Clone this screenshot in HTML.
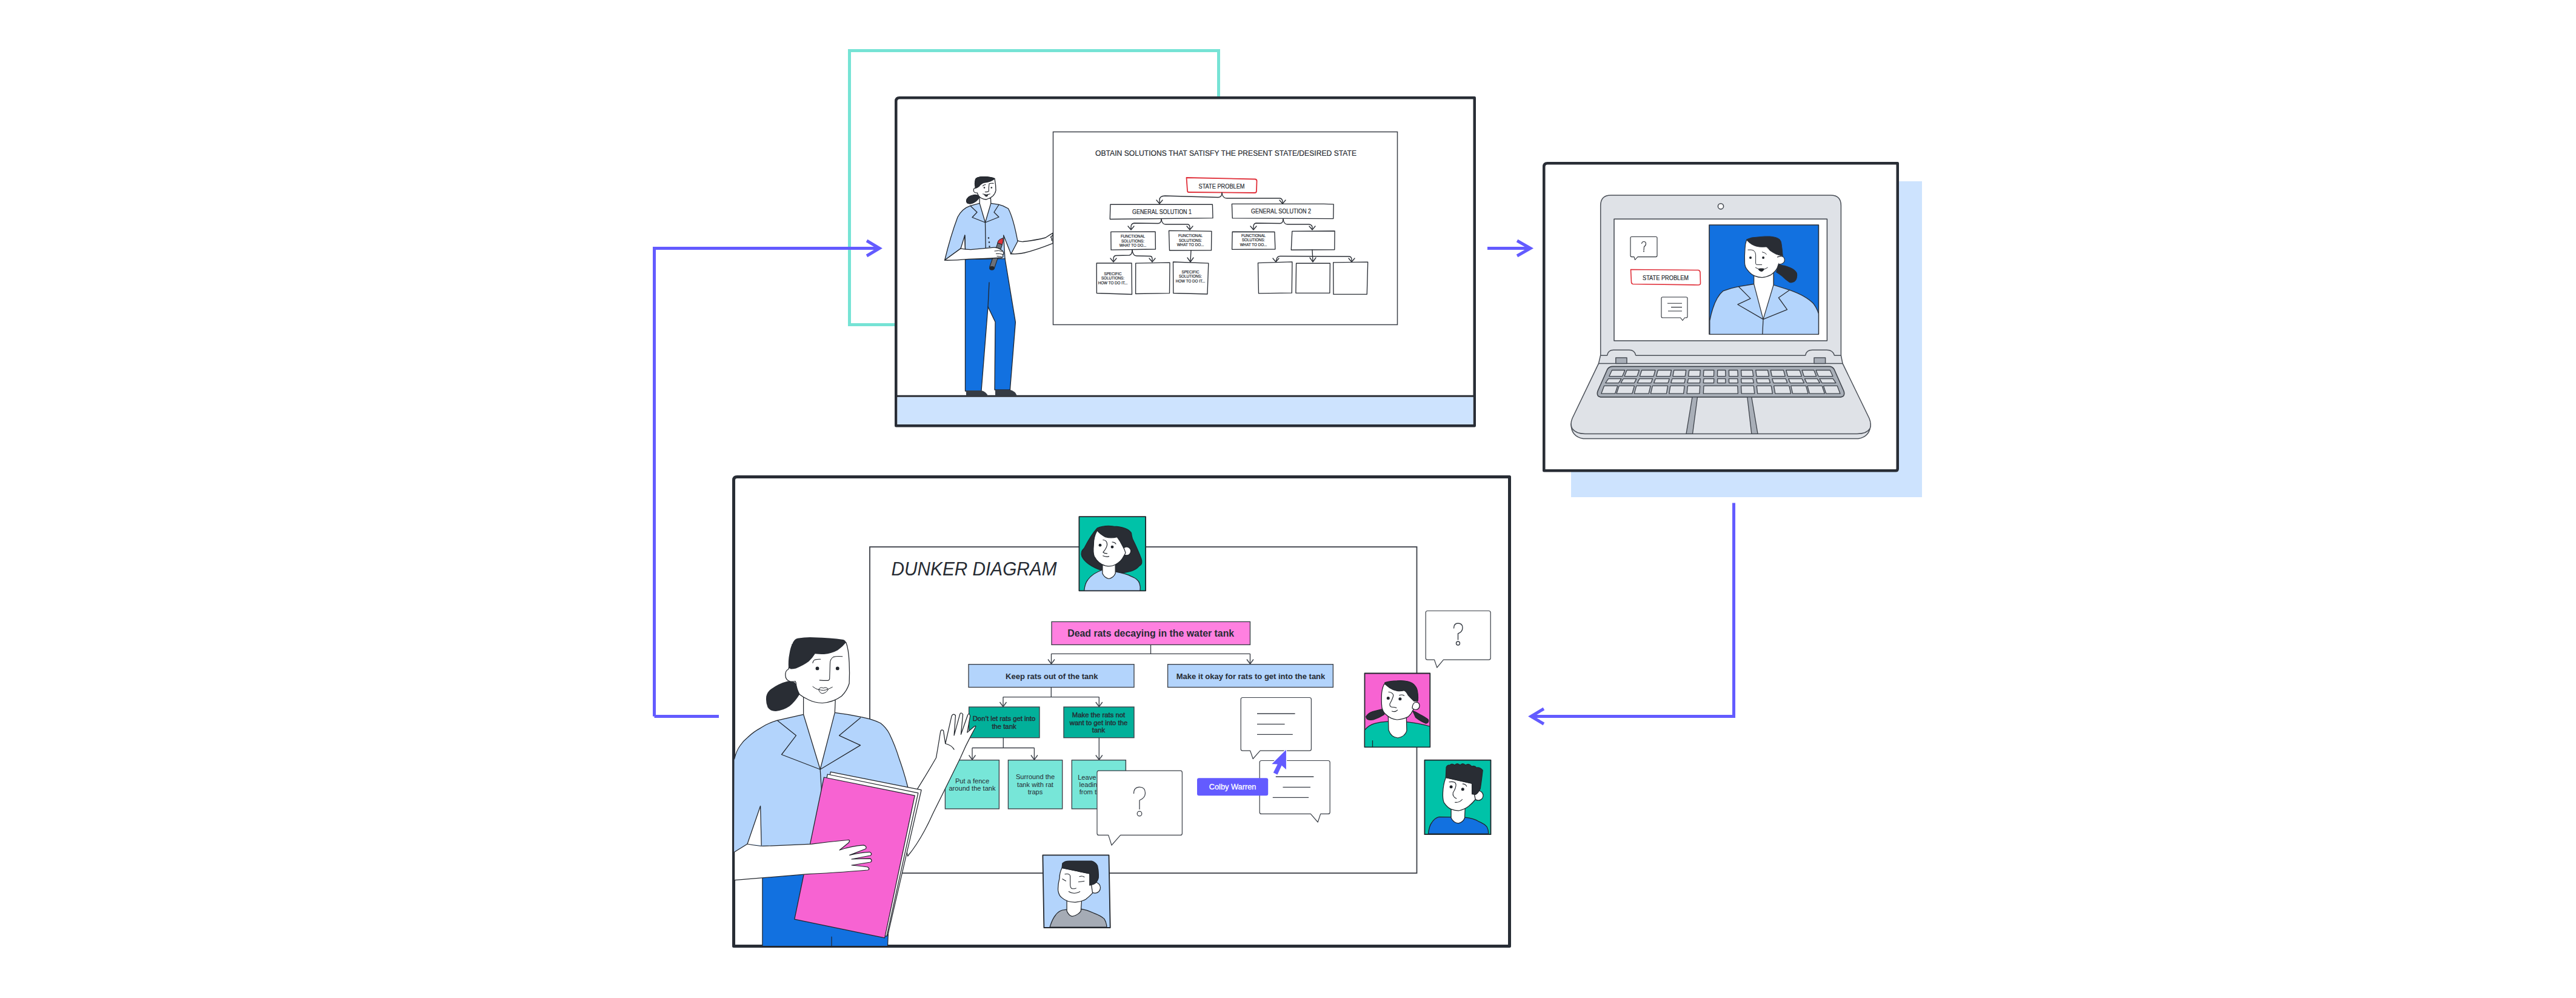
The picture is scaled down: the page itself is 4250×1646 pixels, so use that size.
<!DOCTYPE html>
<html><head><meta charset="utf-8">
<style>
html,body{margin:0;padding:0;background:#fff;width:4250px;height:1646px;overflow:hidden}
svg{display:block;font-family:"Liberation Sans",sans-serif}
</style></head><body>
<svg width="4250" height="1646" viewBox="0 0 4250 1646">
<rect x="0" y="0" width="4250" height="1646" fill="#fff"/>
<!-- teal rect -->
<rect x="1401.5" y="83.5" width="609" height="452" fill="none" stroke="#76e3d5" stroke-width="5"/>
<!-- connectors -->
<g fill="none" stroke="#635bff" stroke-width="5" stroke-linecap="butt">
<path d="M1079.5 1181.5 V409.5 H1450"/>
<path d="M1430 397 L1451 409.5 L1430 422" stroke-linejoin="miter"/>
<path d="M1186 1181.5 H1079.5"/>
<path d="M2454 409.5 H2525"/>
<path d="M2503 397 L2525 409.5 L2503 422"/>
<path d="M2860.5 829.5 V1181.5 H2526"/>
<path d="M2547 1169 L2526 1181.5 L2547 1194"/>
</g>
<!-- TOP PANEL -->
<g id="top">
<path d="M1478.25 702.25 V167 Q1478.25 161.25 1484 161.25 H2432.75 V702.25 Z" fill="#fff" stroke="#282d35" stroke-width="4.5" stroke-linejoin="round"/>
<rect x="1480.5" y="655" width="950" height="45" fill="#cde3fe"/>
<line x1="1478" y1="653.3" x2="2433" y2="653.3" stroke="#282d35" stroke-width="3"/>
<rect x="1737.5" y="217.5" width="568" height="318" fill="#fff" stroke="#3c4048" stroke-width="1.5"/>

<g id="whiteboard" fill="none" stroke="#2b2f36" stroke-width="1.35" stroke-linejoin="round" stroke-linecap="round">
<path d="M1957.5 293 L2071 295.5 Q2074 296 2073.5 300 L2073 315 Q2073 318 2070 318 L1961 317 Q1959 317 1959 314 Z" stroke="#e0303a" stroke-width="1.8"/>
<path d="M1831.9 337.1 L2000.4 337.2 L2001.0 359.7 L1831.3 361.5 Z"/>
<path d="M2032.4 336.4 L2184 336.4 L2200.2 336.9 L2199.8 360.6 L2033.3 359.9 Z"/>
<path d="M1832.8 382.4 L1906.1 382.1 L1906.4 411.0 L1833.1 412.2 Z"/>
<path d="M1928.5 380.4 L1998.9 381.4 L1998.5 412.9 L1929.5 413.0 Z"/>
<path d="M2033.2 382.2 L2102.9 382.5 L2103.9 411.0 L2032.6 411.3 Z"/>
<path d="M2131.8 381.3 L2202.1 381.0 L2201.8 411.7 L2130.3 412.2 Z"/>
<path d="M1809.2 434.0 L1867.0 434.0 L1867.5 485.5 L1809.4 483.5 Z"/>
<path d="M1873.7 434.1 L1930.0 433.2 L1929.5 483.6 L1873.6 484.5 Z"/>
<path d="M1935.5 432.0 L1993.8 434.2 L1992.0 485.0 L1935.8 483.5 Z"/>
<path d="M2075.5 433.6 L2131.9 431.9 L2131.3 483.2 L2076.5 483.9 Z"/>
<path d="M2138.6 434.2 L2194.4 434.2 L2193.9 483.3 L2137.9 483.2 Z"/>
<path d="M2199.7 432.8 L2256.7 432.2 L2255.3 485.2 L2200.0 485.4 Z"/>
<!-- braces -->
<path d="M2016 318 Q2016 325 2010 325.5 L1922 323 Q1913 323 1913 330 L1913 335"/>
<path d="M2016 318 Q2017 327 2024 327 L2112 327 Q2116 328 2116 333 L2116 335"/>
<path d="M1908 330 L1913 336 L1918 330 M2111 330 L2116 336 L2121 330"/>
<path d="M1916 361 Q1916 368 1911 368.5 L1871 368 Q1866 369 1866 374 L1866 378"/>
<path d="M1916 361 Q1917 370 1923 370 L1960 370 Q1963 371 1963 375 L1963 378"/>
<path d="M1861 373 L1866 379 L1871 373 M1958 373 L1963 379 L1968 373"/>
<path d="M2117 361 Q2117 368 2112 368.5 L2072 368 Q2068 369 2068 374 L2068 378"/>
<path d="M2117 361 Q2118 370 2124 370 L2160 370 Q2165 371 2165 375 L2165 378"/>
<path d="M2063 373 L2068 379 L2073 373 M2160 373 L2165 379 L2170 373"/>
<path d="M1868 412 Q1868 420 1863 421 L1841 421.5 Q1837 422 1837 427 L1837 431"/>
<path d="M1868 412 Q1869 422 1875 422 L1898 422.5 Q1901 423 1901 427 L1901 431"/>
<path d="M1832 426 L1837 432 L1842 426 M1896 426 L1901 432 L1906 426"/>
<path d="M1965 413 L1964 431 M1959 425 L1964 432 L1969 425"/>
<path d="M2165 412 L2166 431 M2161 425 L2166 432 L2171 425"/>
<path d="M2105 432 L2106 428 Q2107 422.5 2112 422.5 L2226 423 Q2230 423.5 2230 428 L2230 431"/>
<path d="M2100 426 L2105 432 L2110 426 M2225 426 L2230 432 L2235 426"/>
</g>
<g id="wbtext" fill="#262a30" font-family="Liberation Sans" stroke="#262a30" stroke-width="0.2">
<text x="1807" y="257" font-size="13.5" textLength="431" lengthAdjust="spacingAndGlyphs">OBTAIN SOLUTIONS THAT SATISFY THE PRESENT STATE/DESIRED STATE</text>
<text x="1977.5" y="310.6" font-size="11.5" textLength="76" lengthAdjust="spacingAndGlyphs">STATE PROBLEM</text>
<text x="1868" y="353" font-size="11" textLength="98" lengthAdjust="spacingAndGlyphs">GENERAL SOLUTION 1</text>
<text x="2064" y="352" font-size="11" textLength="99" lengthAdjust="spacingAndGlyphs">GENERAL SOLUTION 2</text>
<g font-size="6.3" text-anchor="middle">
<text x="1869" y="392">FUNCTIONAL</text><text x="1869" y="399.5">SOLUTIONS:</text><text x="1869" y="407">WHAT TO DO...</text>
<text x="1964" y="391">FUNCTIONAL</text><text x="1964" y="398.5">SOLUTIONS:</text><text x="1964" y="406">WHAT TO DO...</text>
<text x="2068" y="391">FUNCTIONAL</text><text x="2068" y="398">SOLUTIONS:</text><text x="2068" y="405.5">WHAT TO DO...</text>
<text x="1836" y="453.5">SPECIFIC</text><text x="1836" y="461">SOLUTIONS:</text><text x="1836" y="468.5">HOW TO DO IT...</text>
<text x="1964" y="450.5">SPECIFIC</text><text x="1964" y="458">SOLUTIONS:</text><text x="1964" y="465.5">HOW TO DO IT...</text>
</g>
</g>
<g id="woman1" stroke="#22262c" stroke-width="1.3" stroke-linejoin="round" stroke-linecap="round">
<!-- right arm -->
<path d="M1678.8 396.9 Q1683 398.8 1688 398.5 Q1710 396 1724.9 392 Q1731 388 1737 384.4 L1737 401.3 Q1710 412 1690 417 Q1680 419.5 1667.2 418.5 Z" fill="#fff"/>
<path d="M1733.3 391.3 L1737 387.6 M1734.5 392 Q1735.5 394 1735.3 396.9" fill="none" stroke-width="1.3"/>
<!-- pants -->
<path d="M1592.5 426 L1658 426 L1675.4 531.4 L1666.4 643 L1641 643 L1642 531 L1630 506 L1619 645 L1592.5 645 Z" fill="#1271e0"/>
<path d="M1632 466 L1630 506" fill="none"/>
<!-- shoes -->
<path d="M1594 644 L1619 644 Q1627 646 1630 653 L1594 653 Z" fill="#363c44" stroke="none"/>
<path d="M1642 643 L1667 643 Q1675 645 1678 653 L1642 653 Z" fill="#363c44" stroke="none"/>
<!-- shirt -->
<path d="M1616 335.4 L1601 339.3 Q1587 344 1580 358 Q1568 390 1558.7 429 L1585 410 L1591.8 388 L1593 427.7 L1658 426.6 L1655.7 388 L1668 419 L1679 398 Q1672 360 1663.5 344 Q1656 339 1648 337.3 L1634.8 335.4 Z" fill="#b3d4fc"/>
<path d="M1591.8 388 L1593 427.7" fill="none"/>
<!-- neck -->
<path d="M1616 325 L1616.2 335.4 L1625.5 367 L1634.8 335.4 L1634.5 327 Z" fill="#fff"/>
<!-- lapels -->
<path d="M1601 339.5 L1612 350 L1604 358.5 L1625.5 367 L1648 358 L1640 350 L1648 337.5" fill="none"/>
<path d="M1625.5 367 L1626.5 426" fill="none"/>
<circle cx="1631" cy="392.5" r="1.2" fill="#22262c" stroke="none"/><circle cx="1632" cy="399.5" r="1.2" fill="#22262c" stroke="none"/><circle cx="1632.5" cy="406.5" r="1.2" fill="#22262c" stroke="none"/>
<!-- marker -->
<path d="M1632.7 440.5 L1640.3 443.1 L1653.6 403.4 L1646 400.8 Z" fill="#6b7079" stroke-width="1.1"/>
<path d="M1646 400.8 L1653.6 403.4 Q1655.5 398 1655 392.5 Q1650 394 1647.5 396.5 Z" fill="#e0303a" stroke-width="1"/>
<ellipse cx="1636.5" cy="442.3" rx="4.3" ry="3.4" fill="#22262c" stroke="none"/>
<!-- left arm -->
<path d="M1558.4 429.2 L1584.9 409.9 Q1592 411.5 1601.7 411.7 Q1620 410 1640.1 408.1 Q1646 408 1650 411 L1654.5 414 Q1657 418 1654.5 421 Q1656 424 1652.2 425 Q1625 427 1598 427.4 Q1575 429.5 1558.4 429.2 Z" fill="#fff"/>
<path d="M1641 414 Q1648 412.5 1653.5 414.5 M1643.5 418.5 Q1650 418 1654.5 419.5 M1645 422.5 Q1650 423 1653.5 424" fill="none" stroke-width="1"/>
<!-- ponytail -->
<path d="M1613 322 Q1606 320 1598 325 Q1592 331 1596 335 Q1602 338 1610 332 Q1616 327 1616 323 Z" fill="#292d34"/>
<!-- face -->
<path d="M1609.5 296 Q1610 292 1623 291.6 Q1636 292 1641 294.7 Q1643 305 1643 314 Q1641 325 1627 329 Q1618 328 1614.5 322.8 L1611 316 Q1609 305 1609.5 296 Z" fill="#fff"/>
<path d="M1609 309.5 Q1606 311 1606.2 314 Q1606.5 317.5 1610 318 L1613.5 318 L1613.5 310 Z" fill="#fff" stroke="none"/>
<path d="M1609 309.8 Q1606 311 1606.2 314 Q1606.5 317.5 1610 318 L1612.5 318" fill="none" stroke-width="1.1"/>
<path d="M1609.5 296 Q1611 291.5 1623 291.6 Q1636 292 1641 294.5 Q1636 299.5 1624 301 Q1618 303 1615.5 307 Q1613 309 1609.5 310.5 Q1607.5 302 1609.5 296 Z" fill="#292d34"/>
<circle cx="1624" cy="309.5" r="1.3" fill="#22262c" stroke="none"/><circle cx="1635.8" cy="309.5" r="1.3" fill="#22262c" stroke="none"/>
<path d="M1632 303 Q1631 310 1631.3 315.5 Q1628 317 1625.3 316.5 M1621.5 306.6 Q1623.5 304.5 1626 304.5 M1632 303 Q1634 302 1639 302.4" fill="none" stroke-width="1.1"/>
<path d="M1621.5 320 Q1627 322.5 1633.4 320" fill="none" stroke-width="1"/>
<path d="M1623.5 321 Q1627 321.8 1630.5 321 Q1629.5 324.5 1627 324.5 Q1624.5 324 1623.5 321 Z" fill="#22262c" stroke="none"/>
</g>
</g>
<!-- LAPTOP PANEL -->
<g id="laptop">
<rect x="2592" y="299" width="579" height="521" fill="#cde3fe"/>
<path d="M2547.25 776.25 V275 Q2547.25 269.25 2553 269.25 H3130.75 V773 Q3130.75 776.25 3127.5 776.25 Z" fill="#fff" stroke="#282d35" stroke-width="4.5" stroke-linejoin="round"/>

<g id="laptopfig" stroke="#4a4f57" stroke-width="1.5" stroke-linejoin="round">
<!-- base lip -->
<path d="M2592 699 Q2592 720 2612 723.5 L3066 723.5 Q3086 720 3086 699 Z" fill="#dfe2e7"/>
<!-- base deck -->
<path d="M2640.6 586.2 L2637.5 599.4 L2594 690 Q2590 700 2594 707 Q2600 715.4 2615 715.4 L3064 715.4 Q3080 715.4 3085 707 Q3088 700 3084 690 L3040 599.4 L3037.4 586.2 Z" fill="#dfe2e7"/>
<line x1="2637.5" y1="599.4" x2="3040" y2="599.4"/>
<rect x="2665.8" y="590" width="18.2" height="9.4" fill="#a9afb8"/>
<rect x="2993" y="590" width="18.6" height="9.4" fill="#a9afb8"/>
<!-- keyboard -->
<path d="M2661 604.4 L3018 604.4 Q3023 604.4 3026 609 L3042 645 Q3045 654.9 3035 654.9 L2643 654.9 Q2633 654.9 2636 645 L2652 609 Q2655 604.4 2661 604.4 Z" fill="#a9afb8" stroke="#3f444c" stroke-width="1.6"/>
<path d="M2659.5 610.5 L2680.8 610.5 L2676.7 620.6 L2654.9 620.6 Z M2684.1 610.5 L2704.4 610.5 L2700.9 620.6 L2680.1 620.6 Z M2708.7 610.5 L2730.9 610.5 L2728.2 620.6 L2705.4 620.6 Z M2735.3 610.5 L2757.5 610.5 L2755.4 620.6 L2732.6 620.6 Z M2761.8 610.5 L2781.7 610.5 L2780.2 620.6 L2759.9 620.6 Z M2786.8 610.5 L2805.3 610.5 L2804.5 620.6 L2785.5 620.6 Z M2811.0 610.5 L2827.8 610.5 L2827.5 620.6 L2810.3 620.6 Z M2833.7 610.5 L2846.7 610.5 L2846.9 620.6 L2833.5 620.6 Z M2852.4 610.5 L2866.7 610.5 L2867.4 620.6 L2852.7 620.6 Z M2872.5 610.5 L2891.3 610.5 L2892.7 620.6 L2873.3 620.6 Z M2896.7 610.5 L2916.5 610.5 L2918.5 620.6 L2898.1 620.6 Z M2921.3 610.5 L2942.5 610.5 L2945.2 620.6 L2923.4 620.6 Z M2946.8 610.5 L2969.1 610.5 L2972.4 620.6 L2949.6 620.6 Z M2973.0 610.5 L2992.7 610.5 L2996.6 620.6 L2976.4 620.6 Z M2996.0 610.5 L3019.3 610.5 L3023.9 620.6 L3000.1 620.6 Z M2653.6 624.6 L2674.9 624.6 L2670.6 631.7 L2648.8 631.7 Z M2678.2 624.6 L2699.8 624.6 L2696.3 631.7 L2674.1 631.7 Z M2704.8 624.6 L2726.6 624.6 L2723.7 631.7 L2701.3 631.7 Z M2731.3 624.6 L2754.2 624.6 L2752.0 631.7 L2728.6 631.7 Z M2758.9 624.6 L2780.5 624.6 L2779.0 631.7 L2756.8 631.7 Z M2785.5 624.6 L2805.3 624.6 L2804.5 631.7 L2784.1 631.7 Z M2811.0 624.6 L2827.8 624.6 L2827.5 631.7 L2810.3 631.7 Z M2833.7 624.6 L2846.7 624.6 L2846.9 631.7 L2833.5 631.7 Z M2852.4 624.6 L2866.7 624.6 L2867.4 631.7 L2852.7 631.7 Z M2872.5 624.6 L2891.9 624.6 L2893.3 631.7 L2873.3 631.7 Z M2897.6 624.6 L2918.5 624.6 L2920.5 631.7 L2899.1 631.7 Z M2923.8 624.6 L2946.1 624.6 L2948.8 631.7 L2926.0 631.7 Z M2950.8 624.6 L2973.0 624.6 L2976.4 631.7 L2953.6 631.7 Z M2977.4 624.6 L2998.2 624.6 L3002.3 631.7 L2980.9 631.7 Z M3002.0 624.6 L3024.2 624.6 L3028.9 631.7 L3006.1 631.7 Z M2646.7 636.3 L2668.9 636.3 L2664.6 649.2 L2641.8 649.2 Z M2671.3 636.3 L2696.5 636.3 L2692.8 649.2 L2667.0 649.2 Z M2699.8 636.3 L2723.1 636.3 L2720.1 649.2 L2696.3 649.2 Z M2726.4 636.3 L2751.6 636.3 L2749.4 649.2 L2723.5 649.2 Z M2755.9 636.3 L2779.2 636.3 L2777.6 649.2 L2753.8 649.2 Z M2784.5 636.3 L2804.7 636.3 L2803.9 649.2 L2783.1 649.2 Z M2811.0 636.3 L2866.7 636.3 L2867.4 649.2 L2810.3 649.2 Z M2872.5 636.3 L2893.3 636.3 L2894.7 649.2 L2873.3 649.2 Z M2898.2 636.3 L2922.2 636.3 L2924.4 649.2 L2899.7 649.2 Z M2926.6 636.3 L2951.8 636.3 L2954.6 649.2 L2928.8 649.2 Z M2954.7 636.3 L2979.5 636.3 L2983.1 649.2 L2957.7 649.2 Z M2981.9 636.3 L3006.1 636.3 L3010.4 649.2 L2985.5 649.2 Z M3008.4 636.3 L3031.1 636.3 L3036.0 649.2 L3012.8 649.2 Z" fill="#dfe2e7" stroke="#3f444c" stroke-width="1.3"/>
<path d="M2792 654.9 L2800.5 654.9 L2792.5 715.4 L2782 715.4 Z M2882.8 654.9 L2889.8 654.9 L2900 715.4 L2889.8 715.4 Z" fill="#a9afb8" stroke="#3f444c" stroke-width="1.3"/>
<!-- lid -->
<path d="M2640.7 586.2 L2640.7 339 Q2640.7 322 2657.7 322 L3020.4 322 Q3037.4 322 3037.4 339 L3037.4 586.2 Z" fill="#dfe2e7"/>
<path d="M2651.7 587 Q2653 577.2 2662 577.2 L2688 577.2 Q2697 577.2 2698.7 587 Z M2978.7 587 Q2980 577.2 2990 577.2 L3014 577.2 Q3024 577.2 3026.5 587 Z" fill="#dfe2e7" stroke="none"/>
<path d="M2651.7 586.2 Q2653 577.2 2662 577.2 L2688 577.2 Q2697 577.2 2698.7 586.2 M2978.7 586.2 Q2980 577.2 2990 577.2 L3014 577.2 Q3024 577.2 3026.5 586.2" fill="none"/>
<circle cx="2839" cy="340.3" r="4.6" fill="#fff" stroke="#3f444c"/>
<rect x="2663" y="361.3" width="351.4" height="200.7" fill="#fff" stroke="#3f444c"/>
</g>
<g id="screen" stroke="#2b2f36" stroke-linejoin="round">
<!-- video -->
<rect x="2820" y="371" width="180.4" height="180.3" fill="#1271e0" stroke-width="1.6"/>
<path d="M2820.8 528.9 Q2828 492 2843 479.8 Q2856 475 2868.5 472.7 L2893.7 468.5 L2895 456 L2926 453 L2926 470 L2952.7 478.3 Q2980 488 2992 500.8 Q2998 509 3000.4 517.6 L3000.4 551.3 L2820.8 551.3 Z" fill="#b3d4fc" stroke-width="1.3"/>
<path d="M2893.7 445 L2893.7 468.5 L2909 526.6 L2926 470 L2926 445 Z" fill="#fff" stroke-width="1.2"/>
<path d="M2868.5 472.7 L2888 492.4 L2867 502.2 L2909 526.6 L2948.5 510.6 L2934.4 491 L2952.7 478.3 M2909 526.6 L2907.8 551.3" fill="none" stroke-width="1.3"/>
<path d="M2934.1 436.1 Q2940 437 2945.1 438.1 Q2955 441 2959.2 444.1 Q2966 449 2965.2 454.1 Q2965 462 2960.2 465.1 Q2956 467 2952.2 466.1 Q2946 462 2940.1 456.1 Q2935 452 2930.1 449.1 Z" fill="#292d34" stroke="none"/>
<path d="M2881.5 396 Q2879 403 2879 410 Q2878 422 2878.5 434.1 Q2879 441 2883 445.1 Q2888 452 2895.1 455.1 Q2901 457.6 2907.1 457.6 Q2915 457 2922.1 453.1 Q2929 448 2932.1 442.1 L2934.1 436.1 L2941 422 L2936 395 Z" fill="#fff" stroke-width="1.2"/>
<path d="M2932.1 424.1 Q2938 421 2942.5 424 Q2945.5 428 2943.5 432 Q2940.5 436 2935 435.6" fill="#fff" stroke-width="1.2"/>
<path d="M2881.5 395 Q2889 391 2900 391 Q2912 389.5 2920.1 390 Q2932 391 2936.1 395 Q2939 398 2939.1 403 Q2940.5 412 2941.1 422.1 Q2935 421 2930.1 419.1 Q2924 416 2920.1 413.1 Q2916 408 2914.1 407 Q2908 407.5 2902.1 407 Q2895 406 2890.1 403 Q2884 399 2881.5 395.5 Z" fill="#292d34" stroke-width="1"/>
<circle cx="2888" cy="425.1" r="2" fill="#22262c" stroke="none"/><circle cx="2909.1" cy="425.1" r="2" fill="#22262c" stroke="none"/>
<path d="M2883.5 412.1 Q2890 411.5 2893.1 413.1 Q2896.6 416 2896.6 420.1 L2896.6 434.1 Q2897 436.6 2898.1 436.6 L2907.1 436.6 M2907.1 415.6 Q2912 416.5 2914.6 419.6 M2896.1 441.1 L2902.1 444.1 M2911 444 L2916.6 441.1" fill="none" stroke-width="1"/>
<path d="M2900.6 443.6 Q2903 442 2906.1 442.6 Q2909 442 2911.1 443.6 Q2909 448 2906.1 448.1 Q2902 447.5 2900.6 443.6 Z" fill="#22262c" stroke="none"/>
<!-- bubbles -->
<path d="M2692 390.5 L2732 390.5 Q2734 390.5 2734 392.5 L2734 421.6 Q2734 423.6 2732 423.6 L2702 423.6 L2697.5 428.5 L2696 423.6 L2692 423.6 Q2690 423.6 2690 421.6 L2690 392.5 Q2690 390.5 2692 390.5 Z" fill="#fff" stroke-width="1.1"/>
<path d="M2708.5 402 Q2709 398.5 2712 398.5 Q2715.5 398.5 2715.5 402 Q2715.5 405 2712.5 407 L2712 413" fill="none" stroke-width="1.1"/>
<circle cx="2712" cy="414.5" r="1" fill="#2b2f36" stroke="none"/>
<path d="M2743 490 L2782 490 Q2784 490 2784 492 L2784 522 Q2784 524 2782 524 L2779.5 524 L2776 528.5 L2772.5 524 L2743 524 Q2741 524 2741 522 L2741 492 Q2741 490 2743 490 Z" fill="#fff" stroke-width="1.1"/>
<path d="M2751 500.2 H2775 M2757 506.6 H2775 M2752 513 H2775" fill="none" stroke-width="1.1"/>
<path d="M2690.5 444.5 L2802 445.5 Q2804.5 446 2805 449 L2805.5 467 Q2805.5 470 2802 470 L2694 468.5 Q2691.5 468 2691.5 465 Z" fill="#fff" stroke="#e0303a" stroke-width="1.6"/>
</g>
<text x="2710" y="461.5" font-size="11" fill="#262a30" stroke="#262a30" stroke-width="0.2" textLength="76" lengthAdjust="spacingAndGlyphs">STATE PROBLEM</text>
</g>
<!-- BOTTOM PANEL -->
<g id="bottom">
<path d="M1210.5 1560.5 V792 Q1210.5 786.5 1216 786.5 H2490.5 V1560.5 Z" fill="#fff" stroke="#282d35" stroke-width="5" stroke-linejoin="round"/>
<rect x="1435" y="902" width="902.5" height="538" fill="none" stroke="#3c4048" stroke-width="1.8"/>

<g id="diagram" stroke="#3a3f47" stroke-width="1.35" fill="none">
<text x="1470.5" y="948.7" font-size="32" font-style="italic" fill="#262b33" stroke="none" textLength="273" lengthAdjust="spacingAndGlyphs">DUNKER DIAGRAM</text>
<rect x="1735" y="1025.4" width="327.5" height="38" fill="#ff80e0"/>
<rect x="1598" y="1095.7" width="273" height="37.8" fill="#b3d4fc"/>
<rect x="1926.6" y="1095.7" width="272.8" height="37.8" fill="#b3d4fc"/>
<rect x="1598.6" y="1166" width="116.4" height="50.7" fill="#02b09a"/>
<rect x="1755" y="1166" width="116" height="50.7" fill="#02b09a"/>
<rect x="1559.4" y="1253.6" width="89" height="80.4" fill="#77e6d8"/>
<rect x="1663.4" y="1253.6" width="89.3" height="80.4" fill="#77e6d8"/>
<rect x="1768.3" y="1253.6" width="89.1" height="80.4" fill="#77e6d8"/>
<path d="M1898.5 1063.4 V1078.3 M1734.5 1078.3 H2062.5 M1734.5 1078.3 V1095 M2062.5 1078.3 V1095"/>
<path d="M1729 1087.5 L1734.5 1095 L1740 1087.5 M2057 1087.5 L2062.5 1095 L2068 1087.5"/>
<path d="M1734.3 1133.5 V1149.6 M1655 1149.6 H1813.3 M1655 1149.6 V1165.5 M1813.3 1149.6 V1165.5"/>
<path d="M1649.5 1158 L1655 1165.5 L1660.5 1158 M1807.8 1158 L1813.3 1165.5 L1818.8 1158"/>
<path d="M1655.3 1217 V1233.5 M1604 1233.5 H1706.4 M1604 1233.5 V1253 M1706.4 1233.5 V1253 M1813.3 1217 V1253"/>
<path d="M1598.5 1245.5 L1604 1253 L1609.5 1245.5 M1700.9 1245.5 L1706.4 1253 L1711.9 1245.5 M1807.8 1245.5 L1813.3 1253 L1818.8 1245.5"/>
</g>
<g fill="#262b33" font-family="Liberation Sans">
<text x="1898.7" y="1049.9" font-size="16" font-weight="bold" text-anchor="middle" textLength="275" lengthAdjust="spacingAndGlyphs">Dead rats decaying in the water tank</text>
<text x="1735.3" y="1120.2" font-size="13" font-weight="bold" text-anchor="middle">Keep rats out of the tank</text>
<text x="2063.5" y="1120.2" font-size="13" font-weight="bold" text-anchor="middle">Make it okay for rats to get into the tank</text>
<g font-size="11.3" text-anchor="middle" stroke="#262b33" stroke-width="0.4">
<text x="1656.5" y="1189.4">Don’t let rats get into</text><text x="1656.5" y="1201.8">the tank</text>
<text x="1812.5" y="1183.2">Make the rats not</text><text x="1812.5" y="1196">want to get into the</text><text x="1812.5" y="1207.8">tank</text>
</g>
<g font-size="11.1" text-anchor="middle">
<text x="1604" y="1291.5">Put a fence</text><text x="1604" y="1303.6">around the tank</text>
<text x="1708" y="1284.9">Surround the</text><text x="1708" y="1297.6">tank with rat</text><text x="1708" y="1309.5">traps</text>
<text x="1813" y="1286">Leave ladders</text><text x="1813" y="1297.8">leading away</text><text x="1813" y="1310">from the tank</text>
</g>
</g>
<!-- bubbles -->
<g stroke="#3a3f47" stroke-width="1.2" fill="#fff" stroke-linejoin="round">
<path d="M1813 1271.2 H1947.4 Q1950.4 1271.2 1950.4 1274.2 V1374.4 Q1950.4 1377.4 1947.4 1377.4 H1848.6 L1834 1394 L1828.7 1377.4 H1813 Q1810 1377.4 1810 1374.4 V1274.2 Q1810 1271.2 1813 1271.2 Z"/>
<path d="M1870.5 1309 Q1870.5 1298 1880 1298 Q1889.5 1298 1889.5 1308 Q1889.5 1316 1880 1320 V1335" fill="none" stroke-width="1.25"/>
<circle cx="1880" cy="1342" r="3.8" fill="none" stroke-width="1.25"/>
<path d="M2355.2 1007.5 H2456.2 Q2459.2 1007.5 2459.2 1010.5 V1085.2 Q2459.2 1088.2 2456.2 1088.2 H2381.5 L2370.8 1101 L2366.5 1088.2 H2355.2 Q2352.2 1088.2 2352.2 1085.2 V1010.5 Q2352.2 1007.5 2355.2 1007.5 Z"/>
<path d="M2398.5 1036.5 Q2398.5 1028 2405.5 1028 Q2413 1028 2413 1035.5 Q2413 1042 2405.5 1045 V1055.5" fill="none" stroke-width="1.4"/>
<circle cx="2405.5" cy="1061" r="3" fill="none" stroke-width="1.4"/>
<path d="M2050.2 1150.5 H2160.4 Q2163.4 1150.5 2163.4 1153.5 V1235.2 Q2163.4 1238.2 2160.4 1238.2 H2079 L2067.2 1251.5 L2062.7 1238.2 H2050.2 Q2047.2 1238.2 2047.2 1235.2 V1153.5 Q2047.2 1150.5 2050.2 1150.5 Z"/>
<path d="M2074 1177 H2136.6 M2074 1194.4 H2119.6 M2074 1211.4 H2132.8" fill="none" stroke-width="1.3"/>
<path d="M2081.2 1254.5 H2191.2 Q2194.2 1254.5 2194.2 1257.5 V1339.4 Q2194.2 1342.4 2191.2 1342.4 H2178.7 L2174.2 1356 L2162.4 1342.4 H2081.2 Q2078.2 1342.4 2078.2 1339.4 V1257.5 Q2078.2 1254.5 2081.2 1254.5 Z"/>
<path d="M2104.8 1281 H2167.4 M2116.5 1298.3 H2162 M2099.8 1315.3 H2159.1" fill="none" stroke-width="1.3"/>
</g>
<path d="M2122.5 1235 L2122.5 1270.5 L2114.8 1263.5 L2107.8 1278.5 L2100 1274.5 L2106.8 1261 L2097 1260.5 Z" fill="#635bff" stroke="#fff" stroke-width="1.2" stroke-linejoin="miter"/>
<rect x="1975" y="1283.3" width="117.2" height="29" rx="3" fill="#635bff"/>
<text x="2033.6" y="1302.3" font-size="12.8" fill="#fff" text-anchor="middle" stroke="#fff" stroke-width="0.3">Colby Warren</text>


<g id="woman2" stroke="#22262c" stroke-width="1.25" stroke-linejoin="round" stroke-linecap="round">
<!-- pants -->
<path d="M1257.9 1430 L1470 1430 L1464.5 1560.5 L1257.9 1560.5 Z" fill="#1271e0"/>
<path d="M1372 1545 V1560" fill="none" stroke-width="1.2"/>
<!-- shirt -->
<path d="M1211.5 1252 Q1215 1238 1220.9 1230 Q1226 1222 1233.5 1216.2 Q1243 1207 1255 1200.6 Q1266 1193 1281.4 1188.4 L1325.6 1178.3 L1377.3 1175.3 Q1400 1178 1421 1182.6 Q1440 1186 1452.9 1192.8 Q1462 1200 1467.4 1210.2 Q1477 1230 1483.4 1251 Q1492 1275 1498 1299 L1485 1432 L1211 1440 Z" fill="#b3d4fc" stroke="none"/>
<path d="M1211.5 1252 Q1215 1238 1220.9 1230 Q1226 1222 1233.5 1216.2 Q1243 1207 1255 1200.6 Q1266 1193 1281.4 1188.4 L1325.6 1178.3 M1377.3 1175.3 Q1400 1178 1421 1182.6 Q1440 1186 1452.9 1192.8 Q1462 1200 1467.4 1210.2 Q1477 1230 1483.4 1251 Q1492 1275 1498 1299" fill="none"/>
<!-- left sleeve notch -->
<path d="M1233 1392 L1254.6 1329.3 L1256.2 1394" fill="#fff"/>
<!-- neck -->
<path d="M1325.6 1149 L1325.6 1178.3 L1353.2 1269 L1377.3 1175.3 L1378.2 1155 Z" fill="#fff"/>
<!-- lapels -->
<path d="M1282.8 1188.4 L1313.4 1213.1 L1289.5 1244.5 L1353.2 1269 L1419.5 1229.1 L1384.6 1213.1 L1419.5 1184 M1353.2 1269 L1355.5 1306" fill="none"/>
<!-- ponytail -->
<path d="M1264.3 1148.2 Q1266 1141 1272.5 1136.2 Q1285 1127 1299.6 1123.4 Q1307 1122 1311.6 1125.7 Q1317 1135 1319.1 1145.2 Q1312 1157 1302.6 1164.8 Q1292 1172 1280 1173 Q1270 1173 1266.5 1166.3 Q1263 1158 1264.3 1148.2 Z" fill="#292d34" stroke="none"/>
<!-- face -->
<path d="M1307.1 1062.5 L1395.8 1059.5 Q1400 1070 1401.1 1092.6 Q1402 1110 1401.1 1127.2 Q1397 1140 1388.3 1148.2 Q1375 1158 1356.7 1159.5 Q1344 1159 1334.2 1154.2 Q1325 1150 1319.1 1145.2 Q1314 1136 1313.1 1125.7 L1301.1 1103.1 Z" fill="#fff"/>
<path d="M1307.1 1062.5 Q1310 1054 1316.1 1052.8 Q1330 1050.5 1343.2 1051.3 Q1370 1052 1391.3 1055 Q1395 1056 1395.8 1059.5 Q1390 1067 1382.3 1072.3 Q1372 1078 1359.7 1079.1 Q1350 1079 1344.7 1078.3 Q1340 1086 1334.2 1091.1 Q1325 1098 1313.1 1102.4 Q1306 1104 1301.1 1103.1 Q1300 1090 1302.6 1077.6 Q1304 1068 1307.1 1062.5 Z" fill="#292d34" stroke="none"/>
<path d="M1301 1103.3 Q1295.5 1106 1295.8 1113.6 Q1296 1122 1304 1124 Q1308 1124.5 1312.5 1124 L1315 1120 L1303 1102 Z" fill="#fff" stroke="none"/>
<path d="M1301 1103.5 Q1295.5 1106 1295.8 1113.6 Q1296 1122 1304 1124 Q1308 1124.5 1312 1123.5" fill="none"/>
<circle cx="1348.5" cy="1102.4" r="2.9" fill="#22262c" stroke="none"/><circle cx="1381.8" cy="1102.4" r="2.9" fill="#22262c" stroke="none"/>
<path d="M1389.8 1082.8 Q1380 1082 1374.8 1083.6 Q1369.5 1087 1369.5 1094.1 L1368.7 1119.7 Q1368 1122.4 1365.7 1122.4 Q1360 1122.5 1352.2 1121.9 M1340.9 1093.4 Q1342 1089 1344.7 1088.1 Q1349 1087 1353.7 1087.3" fill="none" stroke-width="1.1"/>
<path d="M1340.9 1132.4 Q1346 1136.5 1350.7 1137.7 M1366.5 1136.5 Q1370 1135 1373.3 1133.2 M1350.7 1137 Q1352 1134 1355.2 1134 Q1357 1134 1358.2 1135 Q1360 1134 1362 1134 Q1366 1135 1366.5 1136.5 Q1362 1138.5 1358.5 1138.5 Q1354 1138.5 1350.7 1137 Q1352 1143 1356.7 1143.7 Q1364 1143 1366.5 1136.5" fill="none" stroke-width="1"/>
<!-- right arm -->
<path d="M1513.2 1301.8 Q1530 1275 1544.5 1249.7 Q1548 1230 1551.7 1206.5 Q1553 1202 1556.5 1204.9 L1559.7 1226.5 L1570.1 1180.8 Q1573 1176 1576.5 1180 L1574.1 1212.9 L1583.8 1177.6 Q1586 1174 1588.6 1178.4 L1585.4 1211.3 L1596.6 1179.2 Q1599 1175 1600.6 1180.8 L1595.8 1208.1 L1607 1198.5 Q1611 1196 1609.4 1199.3 L1602.2 1212.9 Q1593 1230 1584.6 1249.7 Q1560 1300 1540 1340 Q1520 1385 1497.6 1412 L1480 1320 Z" fill="#fff"/>
<path d="M1559.7 1226.5 Q1570 1229 1574.1 1236.1" fill="none" stroke-width="1.2"/>
<!-- folder pages -->
<path d="M1370.3 1273.1 L1520.1 1302.8 L1464.6 1542.6 L1320 1512 Z" fill="#fff"/>
<path d="M1365.3 1277 L1514.8 1307.8 L1462.9 1544.2 L1315 1514 Z" fill="#fff"/>
<path d="M1359.4 1282 L1509.2 1312.1 L1459.6 1546.9 L1310.8 1516.1 Z" fill="#f763d2"/>
<!-- left arm -->
<path d="M1211.6 1405.3 L1233 1392 Q1250 1395.4 1259.5 1395.4 Q1300 1394 1338.9 1392.1 Q1370 1388 1398.4 1385.5 Q1404 1385 1400 1390 L1385.2 1402 Q1405 1395 1424.9 1393.8 Q1431 1396 1428.2 1400 L1401.7 1410.3 Q1420 1406 1434.8 1405.3 Q1440 1408 1436 1411 L1405 1417 Q1420 1416 1436 1416 Q1440 1420 1436 1422 L1405 1427 Q1418 1428 1431.5 1430 Q1436 1434 1431.5 1435 Q1400 1438 1332.3 1441.7 Q1280 1446 1211.6 1451.6 Z" fill="#fff"/>
</g>
<g id="avatars" stroke="#22262c" stroke-width="1.25" stroke-linejoin="round" stroke-linecap="round">
<!-- A1 teal woman -->
<rect x="1780.4" y="852.2" width="109.7" height="122.1" fill="#00c2a8" stroke-width="1.8"/>
<path d="M1810.1 871.1 Q1822 866 1837.3 868.1 Q1860 869 1866.4 878.8 Q1867 884 1868.4 888.5 Q1878 908 1882.9 921.5 Q1886 930 1880 933.2 Q1874 940 1866.4 941.9 Q1850 946 1840.2 945.8 L1817.9 940.9 Q1792 932 1784.9 917.6 Q1782 910 1788.8 904 Q1800 882 1810.1 871.1 Z" fill="#292d34"/>
<path d="M1788.8 974 Q1790 962 1794.6 956.5 Q1803 945 1818.9 940 L1840.2 942.9 Q1858 946 1866.4 950.6 Q1878 955 1880 962.3 Q1882 968 1881 974 Z" fill="#b3d4fc"/>
<path d="M1818.9 930 V945.8 Q1822 953 1829.5 954.5 Q1837 953 1840.2 945.8 V930 Z" fill="#fff"/>
<circle cx="1858.7" cy="908.9" r="7" fill="#fff"/>
<path d="M1810.1 874.9 Q1804 886 1804.3 898.2 Q1803 912 1805.3 917.6 Q1812 930 1823.7 933.2 Q1833 935 1840.2 931.2 Q1850 926 1853.8 917.6 L1857 912 Q1855 905 1852.9 902.1 Q1848 892 1843.1 885.6 Q1833 888 1823.7 885.6 Q1815 881 1810.1 874.9 Z" fill="#fff"/>
<circle cx="1815" cy="899.2" r="2.4" fill="#22262c" stroke="none"/><circle cx="1835" cy="902.1" r="2.4" fill="#22262c" stroke="none"/>
<path d="M1819.9 890.5 Q1826.6 891 1826.6 898.2 Q1826 904 1819.9 910.8 Q1822 913 1826.6 912.8 M1819.9 916.7 Q1825 919 1829.5 917.6 M1835 894 Q1839 894 1841 897" fill="none" stroke-width="1.2"/>
<!-- pink girl -->
<rect x="2251.5" y="1110.5" width="107.8" height="121.7" fill="#f763d2" stroke-width="1.8"/>
<path d="M2251.5 1204.1 Q2258 1196 2268.3 1193.1 Q2278 1190 2290.3 1190 L2320.3 1190.7 Q2342 1193 2359 1198 L2359.3 1232.2 L2251.5 1232.2 Z" fill="#00c2a8"/>
<path d="M2264.5 1221.7 V1232" fill="none"/>
<path d="M2290.3 1180 L2291 1204.1 Q2295 1216 2306.2 1217 Q2318 1215 2320.9 1205.4 L2320.3 1180 Z" fill="#fff"/>
<path d="M2253.7 1182.1 Q2257 1176 2264.7 1173.6 L2279.3 1169.9 Q2286 1172 2283.6 1178.5 Q2275 1184 2265.9 1187 Q2255 1189 2253.7 1182.1 Z" fill="#292d34"/>
<path d="M2330.7 1172.3 Q2336 1174 2342.9 1178.5 Q2352 1183 2356.4 1187 Q2358 1192 2352.7 1193.1 Q2344 1190 2335.6 1183.3 Z" fill="#292d34"/>
<path d="M2283.6 1128.3 Q2279 1138 2279.3 1150.3 Q2279 1160 2280 1167.5 Q2282 1175 2286.7 1178.5 Q2294 1186 2305 1187 Q2316 1186 2323.3 1182.1 Q2328 1178 2330.7 1172.3 L2339 1155 L2323 1128 Z" fill="#fff"/>
<path d="M2330 1168 Q2330 1160 2335.6 1158 Q2342 1158 2342 1163.8 Q2342 1170 2335.6 1170.5 Q2332 1170 2330.5 1168" fill="#fff"/>
<path d="M2284.8 1125.9 Q2293 1123 2305 1122.8 Q2316 1122 2323.3 1124.1 Q2331 1126 2334.4 1130.8 Q2338 1135 2338.6 1140.6 Q2340 1148 2339.2 1155.8 L2333.1 1156.5 Q2328 1152 2323.3 1146.7 Q2320 1140 2316.6 1138.7 Q2311 1140 2305 1139.3 Q2298 1138 2292.8 1134.4 Q2288 1131 2284.8 1127.7 Z" fill="#292d34"/>
<circle cx="2290.3" cy="1151.6" r="2.5" fill="#22262c" stroke="none"/><circle cx="2309.9" cy="1152.8" r="2.5" fill="#22262c" stroke="none"/>
<path d="M2291 1141.2 Q2298 1142 2298.9 1146.7 Q2298 1152 2292.8 1161.3 Q2293 1166 2296.5 1166.2 Q2301 1166 2303.8 1167.5 M2296.5 1173 Q2302 1175 2305.6 1171.1 M2308.7 1146.7 Q2313 1145 2316.6 1147.3" fill="none" stroke-width="1.1"/>
<!-- teal man -->
<rect x="2350.4" y="1253.6" width="109.1" height="122.6" fill="#00c2a8" stroke-width="1.8"/>
<path d="M2356.4 1375 Q2358 1362 2362 1357 Q2367 1349 2374.1 1347.4 L2394.1 1347.7 L2417.3 1348.2 Q2432 1350 2439 1354.6 Q2450 1359 2453.4 1364.2 Q2456 1369 2455.8 1375 Z" fill="#1271e0"/>
<path d="M2394.1 1330 V1349 Q2398 1357 2406.1 1357.8 Q2414 1356 2416.5 1349 L2417.3 1330 Z" fill="#fff"/>
<circle cx="2439" cy="1312.1" r="8" fill="#fff"/>
<path d="M2385.3 1282.5 Q2381 1294 2380.5 1307.3 Q2380 1318 2382.1 1323.3 Q2388 1332 2394.1 1334.6 Q2400 1337 2406.9 1337 Q2416 1335 2423 1329.7 Q2430 1324 2434.2 1318.5 L2428.6 1292.1 Z" fill="#fff"/>
<path d="M2386.1 1265.6 Q2388 1261 2392 1262 Q2395 1258 2400 1262 Q2404 1257 2409 1262 Q2413 1257 2418 1262 Q2423 1258 2428 1264 Q2433 1262 2436 1266 Q2442 1265 2446.2 1270.4 Q2444 1290 2442.2 1300.9 Q2438 1309 2434.2 1310.5 L2428.6 1309.7 L2428.6 1292.1 L2385.3 1282.5 Z" fill="#292d34"/>
<circle cx="2394.1" cy="1297.7" r="2.5" fill="#22262c" stroke="none"/><circle cx="2413.3" cy="1301.7" r="2.5" fill="#22262c" stroke="none"/>
<path d="M2390.9 1289.7 Q2402 1288 2402.1 1294.5 Q2402 1300 2397.3 1307.3 Q2396 1314 2402.9 1316.9 M2400.5 1323.3 Q2408 1324 2412.5 1318.5 M2413.3 1292.9 Q2418 1293 2419.7 1296.9" fill="none" stroke-width="1.1"/>
<!-- bottom man -->
<path d="M1720.4 1410.4 L1829.5 1410.4 L1831.7 1530 L1722.4 1530 Z" fill="#b3d4fc" stroke-width="1.8"/>
<path d="M1732.1 1529 Q1736 1516 1741.7 1509 Q1746 1503 1752.9 1501 L1760.1 1500.2 L1784.9 1499.4 Q1795 1501 1804.2 1505.8 Q1816 1510 1821.8 1515.4 Q1826 1522 1825.8 1529 Z" fill="#a5abb5"/>
<path d="M1760.1 1480 V1502.6 Q1763 1510 1768.9 1511.4 Q1779 1509 1783.3 1502.6 L1784.9 1480 Z" fill="#fff"/>
<circle cx="1806.5" cy="1464.1" r="9" fill="#fff"/>
<path d="M1752.1 1431.3 Q1748 1440 1748.1 1448.1 Q1745 1460 1745.7 1468.9 Q1747 1477 1751.3 1480.1 Q1760 1488 1773.7 1488.1 Q1785 1487 1791.3 1483.3 Q1798 1478 1802.6 1472.9 L1797.8 1440.9 Z" fill="#fff"/>
<path d="M1752.9 1424 Q1756 1420 1764.1 1420 L1801 1420 Q1808 1422 1810.6 1428 Q1813 1438 1812.2 1448.1 Q1810 1456 1804.2 1458.5 L1797.8 1460.1 L1797.8 1440.9 L1752.1 1431.3 Z" fill="#292d34"/>
<path d="M1752.9 1449.7 L1758.5 1452.9 M1779.3 1454.5 Q1784 1454 1788.9 1453.2 M1780.9 1445.7 Q1786 1444 1788.9 1446.5 M1756.9 1441.7 Q1765 1440 1765.7 1444.9 L1765.7 1459.3 Q1766 1465 1768.9 1465.7 Q1772 1466 1775.3 1464.9 M1763.3 1470.5 Q1772 1476 1781.7 1470.5" fill="none" stroke-width="1.1"/>
</g>
</g>
</svg>
</body></html>
